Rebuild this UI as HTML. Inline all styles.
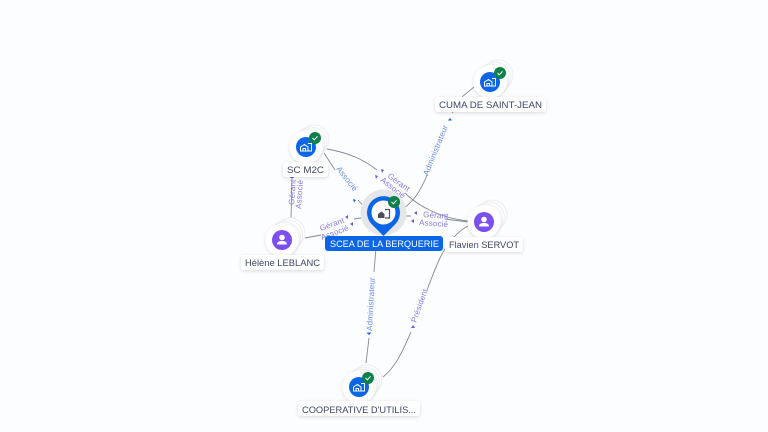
<!DOCTYPE html>
<html><head><meta charset="utf-8"><style>
html,body{margin:0;padding:0;background:#fcfdfe;width:768px;height:432px;overflow:hidden}
svg{display:block}
text{font-family:"Liberation Sans",sans-serif}
.n{font-size:9.5px;fill:#3f4468}
.e{font-size:8px;fill:#8578e8;letter-spacing:.15px}
.b{font-size:8px;fill:#6a8ce4;letter-spacing:.15px}
.l{fill:none;stroke:#858996;stroke-width:.9}
.c{fill:#fff;stroke:#eeeef0;stroke-width:1}
</style></head><body>
<svg width="768" height="432" viewBox="0 0 768 432" xmlns="http://www.w3.org/2000/svg">
<defs>
<filter id="s" x="-20%" y="-40%" width="140%" height="200%"><feDropShadow dx="0" dy="1" stdDeviation="1.5" flood-color="#000" flood-opacity=".14"/></filter>
<g id="chk"><circle r="6" fill="#0c8048"/><path d="M-2.5 0l1.8 1.800 3.200-3.400" fill="none" stroke="#fff" stroke-width="1"/></g>
<g id="stack"><circle class="c" cx="8" cy="-7" r="15"/><circle class="c" cx="5" cy="-4.500" r="15.500"/><circle class="c" cx="2.500" cy="-2" r="16"/><circle r="16.500" fill="#fff" filter="url(#s)"/></g>
<g id="bld"><circle r="10" fill="#0a66e6"/><path d="M-5.500 4v-4l4-2.500 3.500 2.500v4zM-3 4v-2.500h2.500V4M2-3.500h3.500V4H2" fill="none" stroke="#fff" stroke-width="1"/></g>
<g id="per"><circle r="10" fill="#7c4ff0"/><circle cy="-2.500" r="2.800" fill="#fff"/><path d="M-5 4.500c0-3 2.500-3.500 5-3.500s5 .5 5 3.500z" fill="#fff"/></g>
</defs>

<!-- edges -->
<path class="l" d="M292 177L291 218"/>
<path class="l" d="M305 238L321 235M354 219L367 217"/>
<path class="l" d="M324 153L335 170M358 200L367 210"/>
<path class="l" d="M327 149C350 153 364 160 377 170M405 193C418 206 440 218 468 221"/>
<path class="l" d="M400 216L411 216M445 219L468 222"/>
<path class="l" d="M400 211C414 202 421 190 427 175M474 87L463 96L452 113"/>
<path class="l" d="M376 248L374 272M369 338L366 363"/>
<path class="l" d="M468 226C458 231 447 243 440 258C434 271 431 280 427 290M411 332C405 345 398 365 383 377"/>

<!-- edge labels -->
<text class="e" transform="translate(294,205) rotate(-86)">Gérant</text>
<text class="e" transform="translate(301,209) rotate(-86)">Associé</text>
<text class="e" transform="translate(321,231) rotate(-20)">Gérant</text>
<text class="e" transform="translate(322,240) rotate(-20)">Associé</text>
<text class="b" transform="translate(336,169) rotate(52)">Associé</text>
<text class="e" transform="translate(387,177) rotate(36)">Gérant</text>
<text class="e" transform="translate(380,181) rotate(38)">Associé</text>
<text class="e" transform="translate(423,217) rotate(4)">Gérant</text>
<text class="e" transform="translate(419,225) rotate(4)">Associé</text>
<text class="b" transform="translate(428,176) rotate(-68)">Administrateur</text>
<text class="b" transform="translate(372,331) rotate(-87)">Administrateur</text>
<text class="e" transform="translate(416,323) rotate(-70)">Président</text>

<!-- small arrowheads -->
<g fill="#6f5de0">
<path d="M345 217l3-2v4zM350 224l3-2v4zM414 213l3-2v4zM411 221l3-2v4zM381 169l3 1-2 3zM375 175l3 1-2 3z"/>
<path d="M292 175l2 3h-4zM413 325l2 3h-4z"/>
</g>
<g fill="#1d62d8">
<path d="M356 200l-3-1 1 3.500zM450 118l2 2.500h-4zM369 335l2.500-2.500h-5z"/>
</g>

<!-- nodes -->
<g transform="translate(306,147)"><use href="#stack"/><use href="#bld"/><use href="#chk" x="9" y="-9"/></g>
<g transform="translate(282,240)"><use href="#stack"/><use href="#per"/></g>
<g transform="translate(484,222)"><use href="#stack"/><use href="#per"/></g>
<g transform="translate(490,82)"><use href="#stack"/><use href="#bld"/><use href="#chk" x="10" y="-9"/></g>
<g transform="translate(359,387)"><use href="#stack"/><use href="#bld"/><use href="#chk" x="9" y="-9"/></g>

<!-- center pin -->
<circle cx="383.500" cy="212.500" r="23" fill="#e4e6e8"/>
<path d="M383.500 236L371.500 224A16.500 16.500 0 1 1 395.500 224Z" fill="#0a66e6"/>
<circle cx="383.500" cy="212.500" r="12" fill="#fff"/>
<path d="M378 218v-4l3.500-2.500 3 2.500v4z" fill="#4a4f5e"/>
<path d="M385 209.500h4.500v8.500h-4.500" fill="none" stroke="#4a4f5e" stroke-width="1.200"/>
<use href="#chk" x="394" y="202"/>

<!-- labels -->
<rect x="283" y="162" width="45" height="15" rx="3" fill="#fff" filter="url(#s)"/>
<text class="n" x="287" y="173" textLength="37" lengthAdjust="spacingAndGlyphs">SC M2C</text>
<rect x="241" y="255" width="83" height="15" rx="3" fill="#fff" filter="url(#s)"/>
<text class="n" x="245" y="266" textLength="75" lengthAdjust="spacingAndGlyphs">Hélène LEBLANC</text>
<rect x="445" y="237" width="78" height="15" rx="3" fill="#fff" filter="url(#s)"/>
<text class="n" x="449" y="248" textLength="70" lengthAdjust="spacingAndGlyphs">Flavien SERVOT</text>
<rect x="435" y="97" width="111" height="15" rx="3" fill="#fff" filter="url(#s)"/>
<text class="n" x="439" y="108" textLength="103" lengthAdjust="spacingAndGlyphs">CUMA DE SAINT-JEAN</text>
<rect x="298" y="401" width="122" height="15" rx="3" fill="#fff" filter="url(#s)"/>
<text class="n" x="302" y="413" textLength="114" lengthAdjust="spacingAndGlyphs">COOPERATIVE D'UTILIS...</text>
<rect x="325" y="236" width="118" height="15" rx="3" fill="#0a66e6"/>
<text x="330" y="247" font-size="9.500" fill="#fff" textLength="109" lengthAdjust="spacingAndGlyphs">SCEA DE LA BERQUERIE</text>
</svg>
</body></html>
